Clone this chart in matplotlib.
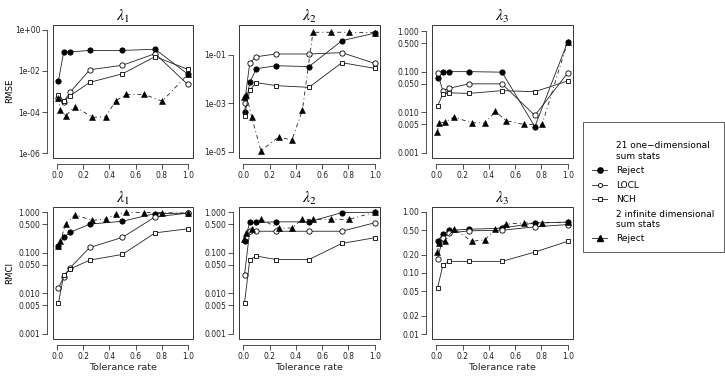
import numpy as np
import matplotlib.pyplot as plt
from matplotlib.lines import Line2D
from matplotlib.patches import Rectangle

plt.rcParams['font.family'] = 'DejaVu Sans'
plt.rcParams['mathtext.fontset'] = 'stix'

# tolerance rates
tol = [0.01, 0.05, 0.1, 0.25, 0.5, 0.75, 1.0]
tol_inf = [0.008, 0.025, 0.065, 0.135, 0.27, 0.37, 0.45, 0.53, 0.665, 0.805, 1.0]

# RMSE, one panel per parameter
rmse_reject = [
    [3.4e-3, 0.085, 0.085, 0.1, 0.1, 0.115, 7e-3],
    [4.6e-4, 7.4e-3, 0.027, 0.036, 0.033, 0.39, 0.8],
    [0.07, 0.098, 0.1, 0.1, 0.097, 4.4e-3, 0.55],
]
rmse_locl = [
    [4.8e-4, 3.2e-4, 9.4e-4, 0.0115, 0.019, 0.07, 2.2e-3],
    [1e-3, 0.048, 0.085, 0.11, 0.11, 0.125, 0.045],
    [0.093, 0.034, 0.039, 0.05, 0.05, 8.3e-3, 0.093],
]
rmse_nch = [
    [6.5e-4, 3.5e-4, 6.3e-4, 2.8e-3, 7.3e-3, 0.05, 0.012],
    [3.1e-4, 3.5e-3, 7.2e-3, 5.4e-3, 4.6e-3, 0.048, 0.028],
    [0.014, 0.028, 0.03, 0.029, 0.034, 0.032, 0.059],
]
rmse_inf = [
    [5.1e-4, 1.26e-4, 6.4e-5, 1.85e-4, 5.5e-5, 5.8e-5, 3.6e-4, 7.2e-4, 7.2e-4, 3.4e-4, 6.8e-3],
    [1.9e-3, 2.2e-3, 2.6e-4, 1.1e-5, 4.1e-5, 3e-5, 5.2e-4, 0.87, 0.87, 0.87, 0.85],
    [3.3e-3, 5.5e-3, 5.7e-3, 7.5e-3, 5.5e-3, 5.4e-3, 0.0104, 6.2e-3, 5e-3, 5e-3, 0.55],
]

# RMCI
rmci_reject = [
    [0.15, 0.24, 0.32, 0.51, 0.6, 0.93, 0.95],
    [0.2, 0.56, 0.56, 0.58, 0.58, 0.98, 1.0],
    [0.33, 0.43, 0.5, 0.52, 0.54, 0.66, 0.68],
]
rmci_locl = [
    [0.0135, 0.025, 0.043, 0.135, 0.24, 0.77, 0.95],
    [0.029, 0.35, 0.34, 0.34, 0.34, 0.34, 0.55],
    [0.17, 0.37, 0.45, 0.49, 0.5, 0.57, 0.62],
]
rmci_nch = [
    [5.8e-3, 0.028, 0.04, 0.066, 0.091, 0.31, 0.39],
    [5.8e-3, 0.068, 0.083, 0.068, 0.068, 0.17, 0.235],
    [0.056, 0.134, 0.155, 0.155, 0.155, 0.22, 0.33],
]
rmci_inf = [
    [0.15, 0.2, 0.51, 0.87, 0.63, 0.68, 0.89, 1.0, 0.98, 0.98, 0.95],
    [0.22, 0.3, 0.38, 0.67, 0.4, 0.41, 0.67, 0.67, 0.67, 0.67, 1.0],
    [0.22, 0.31, 0.33, 0.53, 0.33, 0.35, 0.52, 0.63, 0.66, 0.66, 0.68],
]

titles = [r'$\lambda_1$', r'$\lambda_2$', r'$\lambda_3$']

# y ticks / labels per panel
ticks_rmse = [[1e-6, 1e-4, 1e-2, 1e0], [1e-5, 1e-3, 1e-1],
              [0.001, 0.005, 0.01, 0.05, 0.1, 0.5, 1.0]]
labels_rmse = [['1e-06', '1e-04', '1e-02', '1e+00'], ['1e-05', '1e-03', '1e-01'],
               ['0.001', '0.005', '0.010', '0.050', '0.100', '0.500', '1.000']]
ticks_rmci = [[0.001, 0.005, 0.01, 0.05, 0.1, 0.5, 1.0]] * 2 + [[0.01, 0.02, 0.05, 0.1, 0.2, 0.5, 1.0]]
labels_rmci = [['0.001', '0.005', '0.010', '0.050', '0.100', '0.500', '1.000']] * 2 + \
              [['0.01', '0.02', '0.05', '0.10', '0.20', '0.50', '1.00']]
ylims_rmse = [(-6.24, 0.24), (-5.26, 0.24), (-3.13, 0.15)]
ylims_rmci = [(-3.13, 0.13), (-3.13, 0.13), (-2.08, 0.08)]

W, H = 725, 379
fig = plt.figure(figsize=(W / 100, H / 100), dpi=100)

cols = [(53, 193), (239, 380), (432, 573)]
rows = [(25, 158), (207, 339)]

lw = 0.6
ms = 3.8
ink = '#222222'
dash = (0, (4.8, 3.6, 1.2, 3.6))


def draw(ax, i, reject, locl, nch, inf, ticks, labels, ylim):
    ax.plot(tol, reject[i], color=ink, lw=lw, marker='o', ms=ms, mfc='black', mec='black', mew=0.6)
    ax.plot(tol, locl[i], color=ink, lw=lw, marker='o', ms=ms, mfc='white', mec='black', mew=0.6)
    ax.plot(tol, nch[i], color=ink, lw=lw, marker='s', ms=ms - 0.3, mfc='white', mec='black', mew=0.6)
    ax.plot(tol_inf, inf[i], color=ink, lw=lw, ls=dash, marker='^', ms=ms + 0.7,
            mfc='black', mec='black', mew=0.4)
    ax.set_yscale('log')
    ax.set_ylim(10 ** ylim[0], 10 ** ylim[1])
    ax.set_xlim(-0.032, 1.04)
    ax.set_yticks(ticks)
    ax.set_yticklabels(labels)
    ax.minorticks_off()
    ax.set_xticks(np.arange(0, 1.01, 0.2))
    ax.set_xticklabels(['0.0', '0.2', '0.4', '0.6', '0.8', '1.0'])
    for s in ['top', 'right']:
        ax.spines[s].set_visible(False)
    for s in ['left', 'bottom']:
        ax.spines[s].set_position(('outward', 4))
        ax.spines[s].set_linewidth(0.6)
        ax.spines[s].set_color('#333333')
    ax.spines['left'].set_bounds(min(ticks), max(ticks))
    ax.spines['bottom'].set_bounds(0, 1)
    ax.tick_params(direction='out', length=3.6, width=0.6, color='#333333',
                   labelsize=5.5, labelcolor='#222222', pad=1.5)
    ax.add_patch(Rectangle((0, 0), 1, 1, transform=ax.transAxes, fill=False,
                           lw=0.7, ec='#333333', clip_on=False))
    ax.set_title(titles[i], fontsize=11.5, pad=3)


for r, (top, bot) in enumerate(rows):
    for c, (left, right) in enumerate(cols):
        ax = fig.add_axes([left / W, 1 - bot / H, (right - left) / W, (bot - top) / H])
        if r == 0:
            draw(ax, c, rmse_reject, rmse_locl, rmse_nch, rmse_inf,
                 ticks_rmse[c], labels_rmse[c], ylims_rmse[c])
        else:
            draw(ax, c, rmci_reject, rmci_locl, rmci_nch, rmci_inf,
                 ticks_rmci[c], labels_rmci[c], ylims_rmci[c])
            fig.text((left + right) / 2 / W, 1 - 367 / H, 'Tolerance rate',
                     ha='center', va='center', fontsize=6.8, color='#222222')

fig.text(10 / W, 1 - 91 / H, 'RMSE', rotation=90, ha='center', va='center', fontsize=6.2)
fig.text(10 / W, 1 - 273 / H, 'RMCI', rotation=90, ha='center', va='center', fontsize=6.2)

# legend
none = Line2D([], [], ls='none')
handles = [
    none,
    Line2D([], [], color=ink, lw=lw, marker='o', ms=ms, mfc='black', mec='black'),
    Line2D([], [], color=ink, lw=lw, marker='o', ms=ms - 0.8, mfc='white', mec='black', mew=0.6),
    Line2D([], [], color=ink, lw=lw, marker='s', ms=ms - 1.0, mfc='white', mec='black', mew=0.6),
    none,
    Line2D([], [], color=ink, lw=lw, marker='^', ms=ms + 0.4, mfc='black', mec='black'),
]
labels = ['21 one\u2212dimensional\nsum stats', 'Reject', 'LOCL', 'NCH',
          '2 infinite dimensional\nsum stats', 'Reject']
leg = fig.legend(handles, labels, loc='upper left', bbox_to_anchor=(583 / W, 1 - 122 / H),
                 borderaxespad=0, fontsize=6.5, frameon=True, fancybox=False,
                 edgecolor='#333333', handlelength=1.67, handletextpad=1.0,
                 borderpad=1.0, labelspacing=0.6, title=' ', title_fontsize=4)
leg.get_frame().set_linewidth(0.7)

fig.savefig('out.png', dpi=100)
